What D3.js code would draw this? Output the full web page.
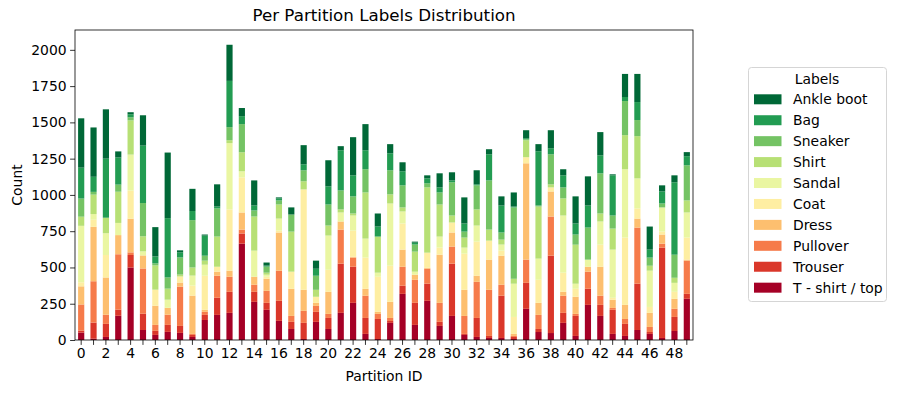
<!DOCTYPE html>
<html>
<head>
<meta charset="utf-8">
<script src="https://cdn.jsdelivr.net/npm/d3@7"></script>
<style>
  body { margin: 0; background: #fff; }
  svg { font-family: "DejaVu Sans", sans-serif; }
</style>
</head>
<body>
<svg id="chart" width="897" height="393"></svg>
<script>
// class names, bottom of the stack first
const labels = ["T - shirt / top", "Trouser", "Pullover", "Dress", "Coat",
  "Sandal", "Shirt", "Sneaker", "Bag", "Ankle boot"];
const colors = ["#a50026", "#da372a", "#f67b4a", "#fdbf6f", "#feeea2",
  "#eaf6a2", "#b7e075", "#74c364", "#229c52", "#006837"];

// per partition counts, partitions 0..49
const tshirt   = [51, 9, 21, 167, 500, 69, 35, 56, 49, 21, 138, 173, 187, 664, 263, 208, 132, 76, 7, 125, 76, 187, 256, 42, 7, 118, 318, 104, 270, 97, 166, 35, 21, 14, 14, 7, 215, 55, 48, 118, 28, 242, 166, 42, 28, 69, 42, 14, 62, 284];
const trouser  = [14, 111, 90, 42, 86, 112, 28, 48, 48, 14, 35, 118, 145, 70, 69, 48, 138, 49, 111, 69, 76, 339, 249, 110, 138, 13, 56, 152, 118, 28, 360, 7, 131, 14, 291, 14, 179, 21, 533, 69, 138, 111, 76, 166, 83, 319, 13, 623, 97, 34];
const pullover = [180, 285, 63, 382, 18, 312, 41, 70, 271, 7, 21, 152, 104, 27, 49, 83, 208, 41, 83, 41, 28, 235, 63, 153, 35, 21, 131, 159, 103, 131, 118, 124, 249, 318, 76, 7, 160, 97, 270, 118, 14, 118, 63, 13, 34, 387, 35, 27, 56, 229];
const dress    = [125, 375, 257, 132, 232, 90, 132, 48, 28, 264, 14, 28, 42, 118, 55, 83, 263, 187, 145, 21, 152, 56, 6, 48, 14, 111, 118, 35, 7, 332, 97, 180, 42, 208, 200, 14, 664, 83, 173, 27, 118, 34, 200, 56, 97, 62, 97, 63, 69, 7];
const coat     = [28, 49, 155, 0, 194, 0, 111, 0, 42, 69, 235, 34, 422, 242, 0, 14, 13, 118, 692, 42, 152, 0, 180, 215, 242, 249, 180, 0, 104, 49, 69, 249, 235, 131, 35, 117, 42, 159, 28, 132, 55, 0, 152, 14, 464, 70, 41, 20, 48, 152];
const sandal   = [389, 39, 150, 84, 248, 28, 0, 56, 0, 69, 76, 0, 457, 42, 180, 14, 83, 0, 0, 0, 236, 62, 104, 131, 28, 429, 83, 21, 0, 76, 0, 42, 111, 0, 42, 229, 0, 146, 0, 394, 35, 49, 160, 332, 471, 207, 250, 167, 62, 173];
const shirt    = [63, 134, 107, 215, 236, 104, 167, 76, 13, 56, 28, 208, 20, 131, 235, 14, 97, 276, 56, 48, 69, 21, 14, 318, 249, 63, 28, 138, 450, 221, 48, 69, 111, 76, 34, 34, 117, 359, 21, 118, 269, 0, 55, 145, 235, 291, 34, 0, 35, 83];
const sneaker  = [125, 19, 0, 49, 21, 229, 14, 77, 118, 326, 34, 194, 90, 194, 42, 42, 28, 118, 76, 97, 145, 131, 118, 160, 0, 166, 152, 49, 28, 83, 229, 41, 166, 339, 49, 492, 7, 7, 207, 76, 70, 221, 277, 90, 235, 111, 56, 27, 159, 242];
const bag      = [213, 104, 407, 187, 21, 396, 48, 409, 35, 63, 139, 13, 319, 55, 34, 7, 14, 0, 41, 48, 125, 277, 145, 131, 69, 117, 97, 13, 34, 35, 13, 56, 7, 180, 186, 6, 7, 374, 42, 83, 76, 152, 124, 277, 28, 124, 55, 83, 499, 63];
const ankle    = [340, 340, 340, 42, 14, 209, 202, 452, 14, 153, 7, 153, 249, 56, 173, 21, 7, 49, 132, 56, 180, 28, 263, 180, 90, 63, 62, 7, 21, 97, 56, 180, 97, 35, 63, 97, 55, 49, 124, 42, 187, 201, 160, 7, 159, 194, 159, 42, 48, 28];

const series = [tshirt, trouser, pullover, dress, coat, sandal, shirt, sneaker, bag, ankle];
const partitions = d3.range(tshirt.length);
const yTicks = [0, 250, 500, 750, 1000, 1250, 1500, 1750, 2000];

// table for d3.stack
const table = partitions.map(function(p) {
  const row = { id: p };
  labels.forEach(function(l, k) { row[l] = series[k][p]; });
  return row;
});

const margin = { top: 30, right: 204, bottom: 53, left: 75 };
const width = 897 - margin.left - margin.right;
const height = 393 - margin.top - margin.bottom;

const svg = d3.select("#chart");
const g = svg.append("g")
  .attr("transform", "translate(" + margin.left + "," + margin.top + ")");

const xScale = d3.scaleBand()
  .domain(partitions)
  .range([0, width])
  .paddingInner(0.5)
  .paddingOuter(0.25);

const stacked = d3.stack().keys(labels)(table);
const yMax = d3.max(stacked[stacked.length - 1], d => d[1]);

const yScale = d3.scaleLinear()
  .domain([0, yMax * 1.05])
  .range([height, 0]);

// bars
g.selectAll(".layer")
  .data(stacked)
  .enter()
  .append("g")
  .attr("fill", (d, i) => colors[i])
  .selectAll("rect")
  .data(d => d)
  .enter()
  .append("rect")
  .attr("x", d => xScale(d.data.id))
  .attr("width", xScale.bandwidth())
  .attr("y", d => yScale(d[1]))
  .attr("height", d => yScale(d[0]) - yScale(d[1]));

// axes
const xAxis = g.append("g")
  .attr("transform", "translate(0," + height + ")")
  .call(d3.axisBottom(xScale)
    .tickSize(4.9)
    .tickPadding(3.5)
    .tickFormat(d => (d % 2 === 0 ? d : "")));

const yAxis = g.append("g")
  .call(d3.axisLeft(yScale)
    .tickValues(yTicks)
    .tickFormat(d3.format("d"))
    .tickSize(4.9)
    .tickPadding(3.5));

[xAxis, yAxis].forEach(function(a) {
  a.select(".domain").remove();
  a.selectAll("line").attr("stroke", "#000").attr("stroke-width", 0.8);
  a.selectAll("text")
    .attr("fill", "#000")
    .style("font-size", "13.9px")
    .style("font-family", "DejaVu Sans");
});

// frame
g.append("rect")
  .attr("width", width)
  .attr("height", height)
  .attr("fill", "none")
  .attr("stroke", "#000")
  .attr("stroke-width", 0.8);

// titles
g.append("text")
  .attr("x", width / 2)
  .attr("y", -9)
  .attr("text-anchor", "middle")
  .style("font-size", "16.7px")
  .text("Per Partition Labels Distribution");

g.append("text")
  .attr("x", width / 2)
  .attr("y", height + 41)
  .attr("text-anchor", "middle")
  .style("font-size", "13.9px")
  .text("Partition ID");

g.append("text")
  .attr("transform", "translate(-53," + height / 2 + ") rotate(-90)")
  .attr("text-anchor", "middle")
  .style("font-size", "13.9px")
  .text("Count");

// legend, top entry is the top of the stack
const legend = svg.append("g").attr("transform", "translate(748,67)");
legend.append("rect")
  .attr("x", 0.5)
  .attr("y", 0.5)
  .attr("width", 138)
  .attr("height", 234)
  .attr("rx", 3)
  .attr("fill", "#fff")
  .attr("stroke", "#d5d5d5")
  .attr("stroke-width", 1);

legend.append("text")
  .attr("x", 69)
  .attr("y", 17)
  .attr("text-anchor", "middle")
  .style("font-size", "13.9px")
  .text("Labels");

const order = labels.slice().reverse();
const items = legend.selectAll(".item")
  .data(order)
  .enter()
  .append("g")
  .attr("transform", (d, i) => "translate(0," + (32.3 + i * 20.93) + ")");

items.append("rect")
  .attr("x", 6)
  .attr("y", -5)
  .attr("width", 27.5)
  .attr("height", 10)
  .attr("fill", d => colors[labels.indexOf(d)]);

items.append("text")
  .attr("x", 45)
  .attr("y", 5)
  .style("font-size", "13.9px")
  .text(d => d);
</script>
</body>
</html>
